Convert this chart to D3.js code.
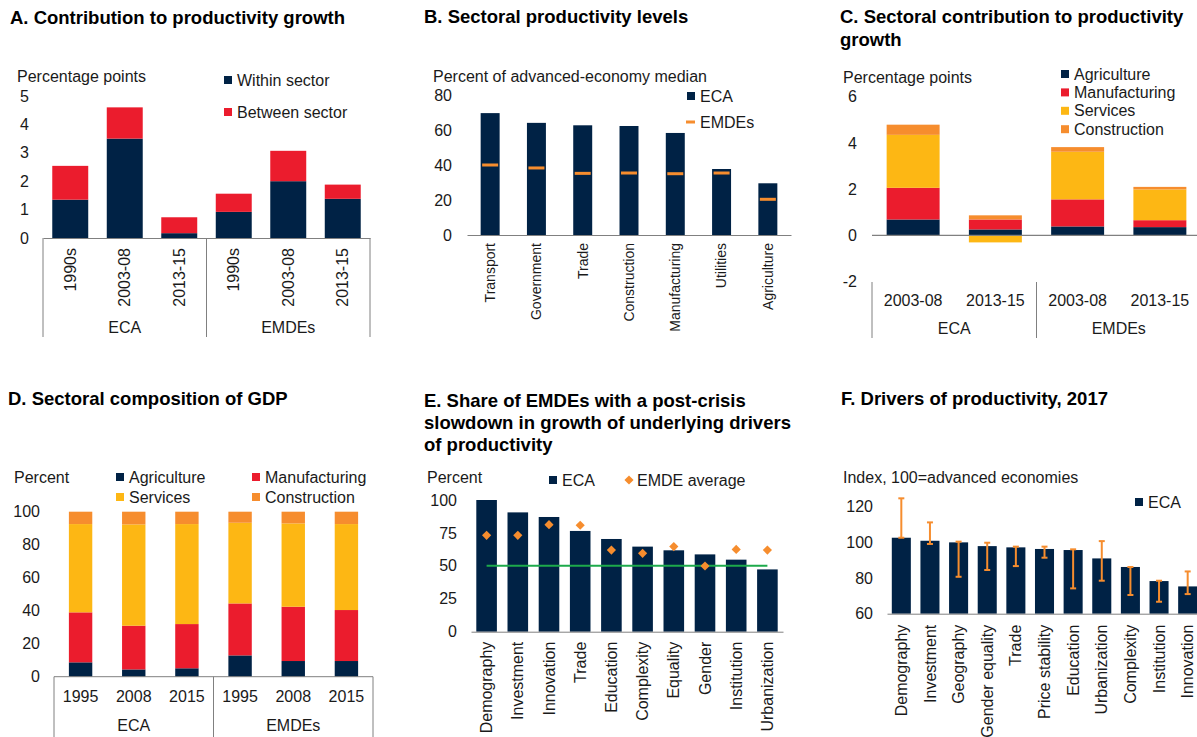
<!DOCTYPE html>
<html>
<head>
<meta charset="utf-8">
<script src="https://cdnjs.cloudflare.com/ajax/libs/d3/7.8.5/d3.min.js"></script>
<style>
  body { margin: 0; background: #fff; }
  text { font-family: "Liberation Sans", Arial, sans-serif; fill: #1a1a1a; }
</style>
</head>
<body>
<svg id="chart" width="1197" height="737"></svg>
<script>
// <--------------------------- Panel A: contribution to productivity growth ----------------------->
var aPeriods = ["1990s", "2003-08", "2013-15", "1990s", "2003-08", "2013-15"];
var aGroups = ["ECA", "EMDEs"];
var aWithin = [1.35, 3.5, 0.17, 0.92, 2.0, 1.38];
var aBetween = [1.19, 1.1, 0.56, 0.64, 1.07, 0.5];
var aTicks = [0, 1, 2, 3, 4, 5];

// <--------------------------- Panel B: sectoral productivity levels ----------------------->
var bSectors = ["Transport", "Government", "Trade", "Construction", "Manufacturing", "Utilities", "Agriculture"];
var bECA = [70, 64.4, 63, 62.6, 58.6, 37.9, 29.7];
var bEMDE = [40.2, 38.5, 35.4, 35.6, 35.2, 35.6, 20.5];
var bTicks = [0, 20, 40, 60, 80];

// <--------------------------- Panel C: sectoral contribution ----------------------->
var cPeriods = ["2003-08", "2013-15", "2003-08", "2013-15"];
var cGroups = ["ECA", "EMDEs"];
var cAgri = [0.69, 0.26, 0.39, 0.36];
var cManu = [1.37, 0.43, 1.17, 0.3];
var cServ = [2.29, -0.3, 2.06, 1.33];
var cConstr = [0.44, 0.18, 0.2, 0.11];
var cTicks = [-2, 0, 2, 4, 6];

// <--------------------------- Panel D: sectoral composition of GDP ----------------------->
var dYears = ["1995", "2008", "2015", "1995", "2008", "2015"];
var dGroups = ["ECA", "EMDEs"];
var dAgri = [8.7, 4.4, 5.1, 12.9, 9.5, 9.5];
var dManu = [30.3, 26.5, 26.8, 31.5, 32.9, 30.9];
var dServ = [53.5, 61.4, 60.6, 48.9, 50.5, 52.1];
var dConstr = [7.5, 7.7, 7.5, 6.7, 7.1, 7.5];
var dTicks = [0, 20, 40, 60, 80, 100];

// <--------------------------- Panel E: share of EMDEs with slowdown ----------------------->
var eDrivers = ["Demography", "Investment", "Innovation", "Trade", "Education", "Complexity", "Equality", "Gender", "Institution", "Urbanization"];
var eECA = [100, 90.6, 87.1, 76.5, 70.4, 64.6, 61.8, 58.7, 54.7, 47.3];
var eEMDE = [73.2, 73.2, 81.3, 80.8, 62, 59.5, 64.6, 49.9, 62.5, 62];
var eLine = 50;
var eTicks = [0, 25, 50, 75, 100];

// <--------------------------- Panel F: drivers of productivity ----------------------->
var fDrivers = ["Demography", "Investment", "Geography", "Gender equality", "Trade", "Price stability", "Education", "Urbanization", "Complexity", "Institution", "Innovation"];
var fECA = [102.6, 100.9, 100, 97.9, 97.2, 96.3, 95.7, 91, 86.2, 78.3, 75.3];
var fLow = [102.6, 99.1, 80.7, 84.5, 86.7, 91.4, 74.2, 78.5, 70.5, 66.7, 71];
var fHigh = [124.7, 111.2, 100.4, 99.8, 97.6, 97.6, 96.1, 100.7, 86.2, 78.5, 83.7];
var fTicks = [60, 80, 100, 120];

var navy = "#002245";
var red = "#EB1C2D";
var yellow = "#FDB714";
var orange = "#F68D2E";
var green = "#1DAA4B";
var grey = "#808080";

var svg = d3.select("#chart");

// <--------------------------- small helpers ----------------------->
function title(lines, x, y) {
  lines.forEach(function(t, i) {
    svg.append("text").text(t)
      .attr("x", x).attr("y", y + i * 22.2)
      .attr("font-size", 18.5).attr("font-weight", "bold")
      .style("fill", "#000");
  });
}

function label(t, x, y, anchor) {
  return svg.append("text").text(t)
    .attr("x", x).attr("y", y)
    .attr("font-size", 16)
    .attr("text-anchor", anchor || "start");
}

function legendBox(x, y, color, t) {
  svg.append("rect").attr("x", x).attr("y", y - 4).attr("width", 8).attr("height", 8).attr("fill", color);
  label(t, x + 13, y + 5.6);
}

function band(n, x0, x1, pad) {
  return d3.scaleBand().domain(d3.range(n)).range([x0, x1]).paddingInner(pad).paddingOuter(pad / 2);
}

function valueAxis(y, ticks, xRight) {
  var g = svg.append("g")
    .attr("transform", "translate(" + xRight + ",0)")
    .call(d3.axisLeft(y).tickValues(ticks).tickSize(0).tickPadding(0)
      .tickFormat(function(d) { return String(d); }));
  g.select(".domain").remove();
  g.attr("font-family", null).attr("font-size", 16);
}

// category axis with labels turned vertical, ending just under the axis
function rotatedAxis(x, names, yAxis, gap, size) {
  var g = svg.append("g")
    .attr("transform", "translate(0," + yAxis + ")")
    .call(d3.axisBottom(x).tickSize(0).tickFormat(function(i) { return names[i]; }));
  g.select(".domain").attr("stroke", grey);
  g.attr("font-family", null).attr("font-size", size);
  g.selectAll("text")
    .attr("y", 0).attr("x", -gap).attr("dy", "0.35em")
    .attr("transform", "rotate(-90)")
    .attr("text-anchor", "end");
  return g;
}

// horizontal category labels + group labels + separators under a two-group chart
function groupedAxis(x, names, groups, yTop, yCat, yGroup, yBottom) {
  var g = svg.append("g")
    .attr("transform", "translate(0," + yCat + ")")
    .call(d3.axisBottom(x).tickSize(0).tickPadding(0).tickFormat(function(i) { return names[i]; }));
  g.select(".domain").remove();
  g.attr("font-family", null).attr("font-size", 16);
  g.selectAll("text").attr("y", 0).attr("dy", "0.35em");
  separators(x, groups, yTop, yGroup, yBottom);
}

function separators(x, groups, yTop, yGroup, yBottom) {
  var r = x.range();
  var per = x.domain().length / groups.length;
  var edges = d3.range(groups.length + 1).map(function(k) { return r[0] + k * per * x.step(); });
  svg.selectAll(null).data(edges).enter().append("line")
    .attr("x1", function(d) { return d; }).attr("x2", function(d) { return d; })
    .attr("y1", yTop).attr("y2", yBottom)
    .attr("stroke", grey).attr("stroke-width", 1);
  groups.forEach(function(t, k) {
    label(t, (edges[k] + edges[k + 1]) / 2, yGroup + 5.6, "middle");
  });
}

function stacked(x, y, rows, keys, colors) {
  var series = d3.stack().keys(keys).offset(d3.stackOffsetDiverging)(rows);
  svg.append("g").selectAll("g").data(series).enter().append("g")
    .attr("fill", function(d, i) { return colors[i]; })
    .selectAll("rect").data(function(d) { return d; }).enter().append("rect")
    .attr("x", function(d, i) { return x(i); })
    .attr("width", x.bandwidth())
    .attr("y", function(d) { return y(Math.max(d[0], d[1])); })
    .attr("height", function(d) { return Math.abs(y(d[0]) - y(d[1])); });
}

function rowsOf(keys, arrays) {
  return arrays[0].map(function(v, i) {
    var r = {};
    keys.forEach(function(k, j) { r[k] = arrays[j][i]; });
    return r;
  });
}

// <--------------------------- A ----------------------->
title(["A. Contribution to productivity growth"], 10, 24.3);
label("Percentage points", 17, 81.7);
legendBox(224, 80, navy, "Within sector");
legendBox(224, 112, red, "Between sector");
var xA = band(aPeriods.length, 43, 370, 0.34);
var yA = d3.scaleLinear().domain([0, 5]).range([238, 96]);
valueAxis(yA, aTicks, 29);
stacked(xA, yA, rowsOf(["within", "between"], [aWithin, aBetween]), ["within", "between"], [navy, red]);
rotatedAxis(xA, aPeriods, 238, 10, 16);
separators(xA, aGroups, 238, 327, 337);

// <--------------------------- B ----------------------->
title(["B. Sectoral productivity levels"], 424, 22.7);
label("Percent of advanced-economy median", 433, 81.7);
legendBox(687, 96, navy, "ECA");
svg.append("rect").attr("x", 686).attr("y", 120.5).attr("width", 9).attr("height", 3).attr("fill", orange);
label("EMDEs", 700, 127.6);
var xB = band(bSectors.length, 467, 791, 0.59);
var yB = d3.scaleLinear().domain([0, 80]).range([235, 95.7]);
valueAxis(yB, bTicks, 452);
svg.append("g").selectAll("rect").data(bECA).enter().append("rect")
  .attr("x", function(d, i) { return xB(i); })
  .attr("width", xB.bandwidth())
  .attr("y", function(d) { return yB(d); })
  .attr("height", function(d) { return yB(0) - yB(d); })
  .attr("fill", navy);
svg.append("g").selectAll("rect").data(bEMDE).enter().append("rect")
  .attr("x", function(d, i) { return xB(i) + xB.bandwidth() / 2 - 8; })
  .attr("width", 16)
  .attr("y", function(d) { return yB(d) - 1.5; })
  .attr("height", 3)
  .attr("fill", orange);
rotatedAxis(xB, bSectors, 235, 8, 14);

// <--------------------------- C ----------------------->
title(["C. Sectoral contribution to productivity", "growth"], 840, 23.3);
label("Percentage points", 843, 83.3);
var cKeys = ["agri", "manu", "serv", "constr"];
var cNames = ["Agriculture", "Manufacturing", "Services", "Construction"];
var sectorColors = [navy, red, yellow, orange];
cNames.forEach(function(t, i) { legendBox(1061, 74 + i * 18.4, sectorColors[i], t); });
var xC = band(cPeriods.length, 872, 1201, 0.356);
var yC = d3.scaleLinear().domain([-2, 6]).range([281.7, 96.7]);
valueAxis(yC, cTicks, 857);
stacked(xC, yC, rowsOf(cKeys, [cAgri, cManu, cServ, cConstr]), cKeys, sectorColors);
svg.append("line")
  .attr("x1", 872).attr("x2", 1197)
  .attr("y1", yC(0)).attr("y2", yC(0))
  .attr("stroke", grey).attr("stroke-width", 1.2);
groupedAxis(xC, cPeriods, cGroups, 282, 300, 328, 338);

// <--------------------------- D ----------------------->
title(["D. Sectoral composition of GDP"], 8, 405);
label("Percent", 14, 483.3);
legendBox(116, 477, navy, "Agriculture");
legendBox(252, 477, red, "Manufacturing");
legendBox(116, 497, yellow, "Services");
legendBox(252, 497, orange, "Construction");
var xD = band(dYears.length, 54, 373, 0.56);
var yD = d3.scaleLinear().domain([0, 100]).range([676.7, 511.7]);
valueAxis(yD, dTicks, 40);
stacked(xD, yD, rowsOf(cKeys, [dAgri, dManu, dServ, dConstr]), cKeys, sectorColors);
svg.append("line")
  .attr("x1", 54).attr("x2", 373)
  .attr("y1", yD(0)).attr("y2", yD(0))
  .attr("stroke", grey).attr("stroke-width", 1);
groupedAxis(xD, dYears, dGroups, 676.7, 696, 725, 737);

// <--------------------------- E ----------------------->
title(["E. Share of EMDEs with a post-crisis", "slowdown in growth of underlying drivers", "of productivity"], 424, 406.7);
label("Percent", 427, 483.3);
legendBox(549, 480, navy, "ECA");
svg.append("path")
  .attr("d", d3.symbol(d3.symbolSquare, 42)())
  .attr("transform", "translate(629,480) rotate(45)")
  .attr("fill", orange);
label("EMDE average", 637, 485.6);
var xE = band(eDrivers.length, 471, 783, 0.34);
var yE = d3.scaleLinear().domain([0, 100]).range([631.7, 500]);
valueAxis(yE, eTicks, 457);
svg.append("g").selectAll("rect").data(eECA).enter().append("rect")
  .attr("x", function(d, i) { return xE(i); })
  .attr("width", xE.bandwidth())
  .attr("y", function(d) { return yE(d); })
  .attr("height", function(d) { return yE(0) - yE(d); })
  .attr("fill", navy);
svg.append("line")
  .attr("x1", xE(0) + xE.bandwidth() / 2)
  .attr("x2", xE(eDrivers.length - 1) + xE.bandwidth() / 2)
  .attr("y1", yE(eLine)).attr("y2", yE(eLine))
  .attr("stroke", green).attr("stroke-width", 2);
svg.append("g").selectAll("path").data(eEMDE).enter().append("path")
  .attr("d", d3.symbol(d3.symbolSquare, 42)())
  .attr("transform", function(d, i) {
    return "translate(" + (xE(i) + xE.bandwidth() / 2) + "," + yE(d) + ") rotate(45)";
  })
  .attr("fill", orange);
rotatedAxis(xE, eDrivers, 631.7, 10, 16);

// <--------------------------- F ----------------------->
title(["F. Drivers of productivity, 2017"], 841, 405);
label("Index, 100=advanced economies", 843, 483.3);
legendBox(1135, 502, navy, "ECA");
var xF = band(fDrivers.length, 887, 1202, 0.335);
var yF = d3.scaleLinear().domain([60, 120]).range([613.7, 506.7]);
valueAxis(yF, fTicks, 873);
svg.append("g").selectAll("rect").data(fECA).enter().append("rect")
  .attr("x", function(d, i) { return xF(i); })
  .attr("width", xF.bandwidth())
  .attr("y", function(d) { return yF(d); })
  .attr("height", function(d) { return yF(60) - yF(d); })
  .attr("fill", navy);
// error bars: range across countries
var err = svg.append("g").attr("stroke", orange).attr("stroke-width", 2)
  .selectAll("g").data(fDrivers).enter().append("g")
  .attr("transform", function(d, i) { return "translate(" + (xF(i) + xF.bandwidth() / 2) + ",0)"; });
err.append("line")
  .attr("y1", function(d, i) { return yF(fLow[i]); })
  .attr("y2", function(d, i) { return yF(fHigh[i]); });
err.append("line").attr("x1", -3).attr("x2", 3)
  .attr("y1", function(d, i) { return yF(fLow[i]); })
  .attr("y2", function(d, i) { return yF(fLow[i]); });
err.append("line").attr("x1", -3).attr("x2", 3)
  .attr("y1", function(d, i) { return yF(fHigh[i]); })
  .attr("y2", function(d, i) { return yF(fHigh[i]); });
rotatedAxis(xF, fDrivers, 613.7, 11, 16);
</script>
</body>
</html>
